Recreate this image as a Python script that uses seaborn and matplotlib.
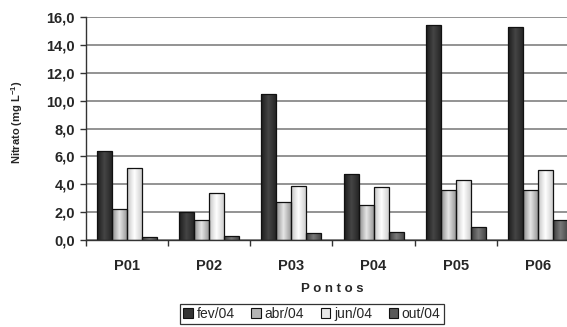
import numpy as np
import pandas as pd
import matplotlib
matplotlib.use('Agg')
import matplotlib.pyplot as plt
import seaborn as sns
from matplotlib.colors import LinearSegmentedColormap
from matplotlib.patches import Patch

# data
pontos = ['P01', 'P02', 'P03', 'P04', 'P05', 'P06']
meses = ['fev/04', 'abr/04', 'jun/04', 'out/04']
fev = [6.4, 2.0, 10.5, 4.7, 15.4, 15.3]
abr = [2.2, 1.4, 2.7, 2.5, 3.6, 3.6]
jun = [5.2, 3.4, 3.9, 3.8, 4.3, 5.0]
out = [0.2, 0.3, 0.5, 0.6, 0.9, 1.4]
y_ticks = [0, 2, 4, 6, 8, 10, 12, 14, 16]

# bar shading (edge, highlight, edge) and flat colour for the legend keys
gradients = {
    'fev/04': ['#1c1c1c', '#454545', '#262626'],
    'abr/04': ['#8c8c8c', '#e6e6e6', '#9a9a9a'],
    'jun/04': ['#c4c4c4', '#ffffff', '#cfcfcf'],
    'out/04': ['#3c3c3c', '#7a7a7a', '#474747'],
}
legend_colors = ['#333333', '#b4b4b4', '#e6e6e6', '#5a5a5a']

df = pd.DataFrame({
    'ponto': np.repeat(pontos, len(meses)),
    'mes': meses * len(pontos),
    'valor': np.column_stack([fev, abr, jun, out]).ravel(),
})

sns.set_theme(style='white')
plt.rcParams['font.family'] = ['Liberation Sans', 'DejaVu Sans']
plt.rcParams['mathtext.fontset'] = 'custom'
plt.rcParams['mathtext.rm'] = 'Liberation Sans:bold'
plt.rcParams['mathtext.bf'] = 'Liberation Sans:bold'

fig = plt.figure(figsize=(5.67, 3.27), dpi=100)
ax = fig.add_axes([86 / 567, 1 - 240 / 327, 493 / 567, 223 / 327])

mid = {m: c[1] for m, c in gradients.items()}
sns.barplot(data=df, x='ponto', y='valor', hue='mes', hue_order=meses,
            order=pontos, palette=mid, width=0.73, dodge=True,
            edgecolor='#111111', linewidth=0.9, legend=False, ax=ax)

# gradient fill clipped to each bar
for mes, cont in zip(meses, ax.containers):
    cmap = LinearSegmentedColormap.from_list(mes, gradients[mes])
    grad = np.linspace(0, 1, 64).reshape(1, -1)
    for bar in cont:
        x0, w, h = bar.get_x(), bar.get_width(), bar.get_height()
        im = ax.imshow(grad, cmap=cmap, aspect='auto',
                       extent=[x0, x0 + w, 0, h], zorder=bar.get_zorder() - 0.01)
        im.set_clip_path(bar)
        bar.set_facecolor('none')

ax.set_ylim(0, 16)
ax.set_xlim(-0.5, len(pontos) - 0.5)

ax.set_yticks(y_ticks)
ax.set_yticklabels([f'{v:.1f}'.replace('.', ',') for v in y_ticks],
                   fontsize=10.5, fontweight='bold')
ax.set_xticks(range(len(pontos)))
ax.set_xticklabels(pontos, fontsize=10.5, fontweight='bold')
ax.set_xticks(np.arange(-0.5, len(pontos), 1), minor=True)
ax.tick_params(axis='x', which='major', length=0, pad=14)
ax.tick_params(axis='x', which='minor', length=4, width=1, color='#333333',
               direction='out', bottom=True)
ax.tick_params(axis='y', length=4, width=1, color='#333333', direction='out',
               left=True, pad=4)

ax.grid(axis='y', color='#808080', linewidth=1.2)
ax.set_axisbelow(True)
for s in ['top', 'right']:
    ax.spines[s].set_visible(False)
for s in ['left', 'bottom']:
    ax.spines[s].set_color('#333333')
    ax.spines[s].set_linewidth(1)

ax.set_xlabel('')
ax.set_ylabel('')
fig.text(17 / 567, 1 - 122 / 327, r'Nitrato (mg L$^{-1}$)', rotation=90,
         ha='center', va='center', fontsize=8, fontweight='bold')
fig.text(332 / 567, 1 - 289 / 327, 'P o n t o s', ha='center', va='center',
         fontsize=9.5, fontweight='bold')

handles = [Patch(facecolor=c, edgecolor='#111111', linewidth=0.8)
           for c in legend_colors]
leg = fig.legend(handles, meses, loc='center', bbox_to_anchor=(312 / 567, 1 - 314 / 327),
                 ncol=4, fontsize=10, frameon=True, fancybox=False,
                 handlelength=0.7, handleheight=0.7, handletextpad=0.25,
                 columnspacing=1.2, borderpad=0.25)
leg.get_frame().set_edgecolor('black')
leg.get_frame().set_linewidth(0.9)

fig.savefig('out.png', dpi=100)
